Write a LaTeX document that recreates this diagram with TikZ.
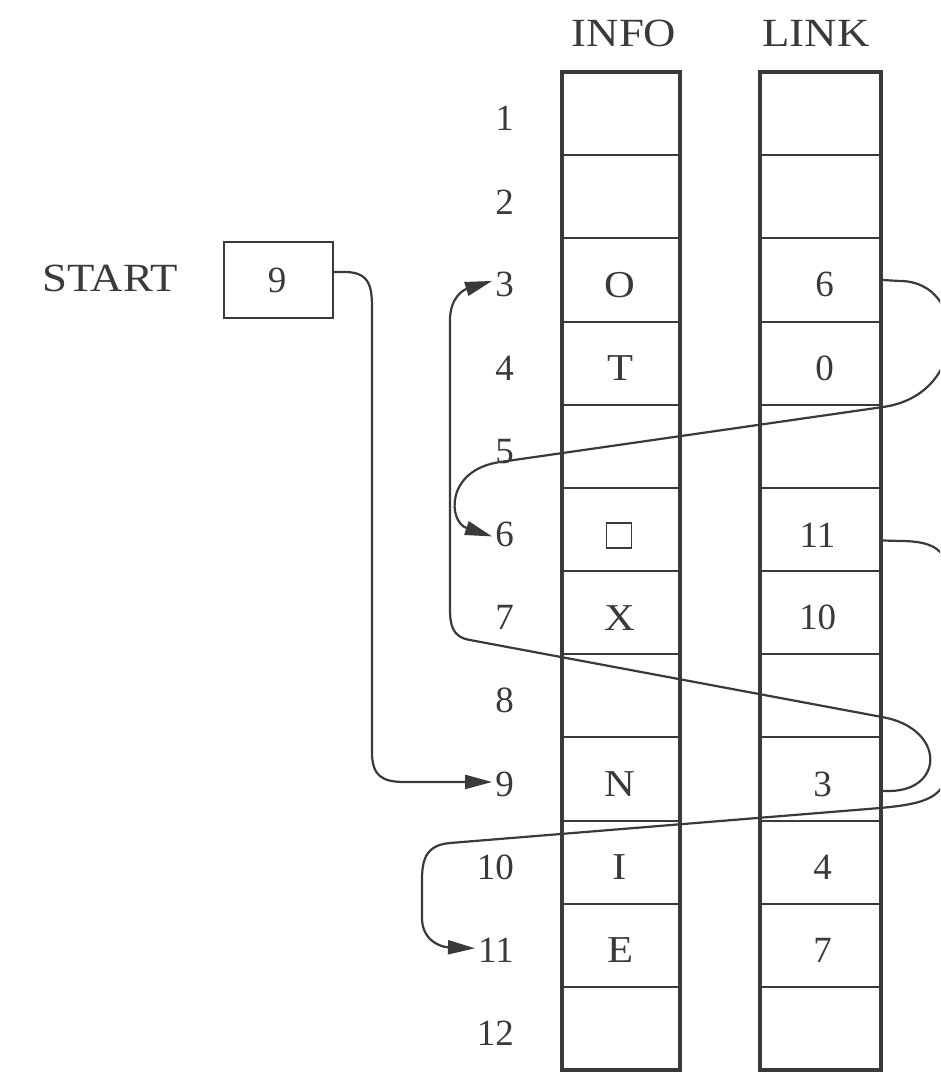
\documentclass[tikz,border=0pt]{standalone}
\usepackage{fontspec}
\setmainfont{Liberation Serif}
\newfontfamily\widefont[FakeStretch=1.12]{Liberation Serif}
\usetikzlibrary{arrows.meta}
\definecolor{ink}{RGB}{58,58,58}
\begin{document}
\begin{tikzpicture}[x=1pt,y=-1pt,
  cell/.style={draw=ink, line width=2pt, minimum width=118pt, minimum height=83.17pt, inner sep=0pt, outer sep=0pt},
  frame/.style={draw=ink, line width=3.6pt},
  word/.style={text=ink, inner sep=0pt, font=\widefont\fontsize{38}{40}\selectfont},
  bigword/.style={text=ink, inner sep=0pt, font=\widefont\fontsize{40}{42}\selectfont},
  num/.style={text=ink, inner sep=0pt, font=\fontsize{37}{40}\selectfont},
  conn/.style={draw=ink, line width=2.2pt},
  arr/.style={conn, -{Triangle[length=27pt,width=14pt]}}]
\useasboundingbox (0,0) rectangle (940,1073);
\clip (0,0) rectangle (940,1073);
\fill[white] (0,0) rectangle (940,1073);

% headers
\node[bigword] (hinfo) at (624,33) {INFO};
\node[bigword] (hlink) at (816,33) {LINK};

% cells and row numbers
\foreach \i in {1,...,12}{
  \pgfmathsetmacro\yc{72+83.17*(\i-0.5)}
  \node[cell] (info\i) at (621,\yc) {};
  \node[cell, minimum width=121pt] (link\i) at (820.5,\yc) {};
  \node[num, anchor=east] (idx\i) at (514,\yc+5) {\i};
}
\draw[frame] (info1.north west) rectangle (info12.south east);
\draw[frame] (link1.north west) rectangle (link12.south east);

% INFO contents
\node[word] (iv3) at ([xshift=-1pt,yshift=-5pt]info3.center) {O};
\node[word] (iv4) at ([xshift=-1pt,yshift=-5pt]info4.center) {T};
\node[draw=ink, line width=1.4pt, minimum size=25pt, inner sep=0pt] (iv6) at ([xshift=-2pt,yshift=-6pt]info6.center) {};
\node[word] (iv7) at ([xshift=-1pt,yshift=-5pt]info7.center) {X};
\node[word] (iv9) at ([xshift=-1pt,yshift=-5pt]info9.center) {N};
\node[word] (iv10) at ([xshift=-1pt,yshift=-5pt]info10.center) {I};
\node[word] (iv11) at ([xshift=-1pt,yshift=-5pt]info11.center) {E};

% LINK contents
\node[num] (lv3) at ([xshift=4pt,yshift=-5pt]link3.center) {6};
\node[num] (lv4) at ([xshift=4pt,yshift=-5pt]link4.center) {0};
\node[num] (lv6) at ([xshift=-3pt,yshift=-6pt]link6.center) {11};
\node[num] (lv7) at ([xshift=-3pt,yshift=-5pt]link7.center) {10};
\node[num] (lv9) at ([xshift=2pt,yshift=-5pt]link9.center) {3};
\node[num] (lv10) at ([xshift=2pt,yshift=-5pt]link10.center) {4};
\node[num] (lv11) at ([xshift=2pt,yshift=-5pt]link11.center) {7};

% START
\node[bigword] (startlbl) at (110,278) {START};
\node[draw=ink, line width=2pt, minimum width=109pt, minimum height=76pt, inner sep=0pt] (startbox) at (278.5,280) {};
\node[num] (startval) at (277,280) {9};

% connectors
% START -> 9
\draw[arr] ([yshift=8pt]startbox.east) -- (345,272)
  .. controls (372,272) and (372,290) .. (372,312) -- (372,752)
  .. controls (372,776) and (382,782) .. (405,782) -- ([xshift=-3pt,yshift=2pt]idx9.west);
% 3 -> 6
\draw[arr] (link3.east) -- (900,281)
  .. controls (968,281) and (970,395) .. (883,407) -- (500,462)
  .. controls (445,470) and (448,522) .. ([xshift=-3pt,yshift=-2pt]idx6.west);
% 6 -> 11
\draw[arr] ([yshift=-11pt]link6.east) -- (900,541)
  .. controls (948,541) and (950,560) .. (950,600) -- (950,750)
  .. controls (950,795) and (935,803) .. (880,808) -- (450,843)
  .. controls (420,845.5) and (422,868) .. (422,890) -- (422,918)
  .. controls (422,940) and (440,947) .. ([xshift=-3pt,yshift=2pt]idx11.west);
% 9 -> 3
\draw[arr] ([yshift=-12pt]link9.east) -- (890,791)
  .. controls (945,790) and (945,728) .. (882,717) -- (470,640)
  .. controls (452,637) and (450,625) .. (450,608) -- (450,320)
  .. controls (450,298) and (463,290) .. ([xshift=-3pt,yshift=4pt]idx3.west);
\end{tikzpicture}
\end{document}
